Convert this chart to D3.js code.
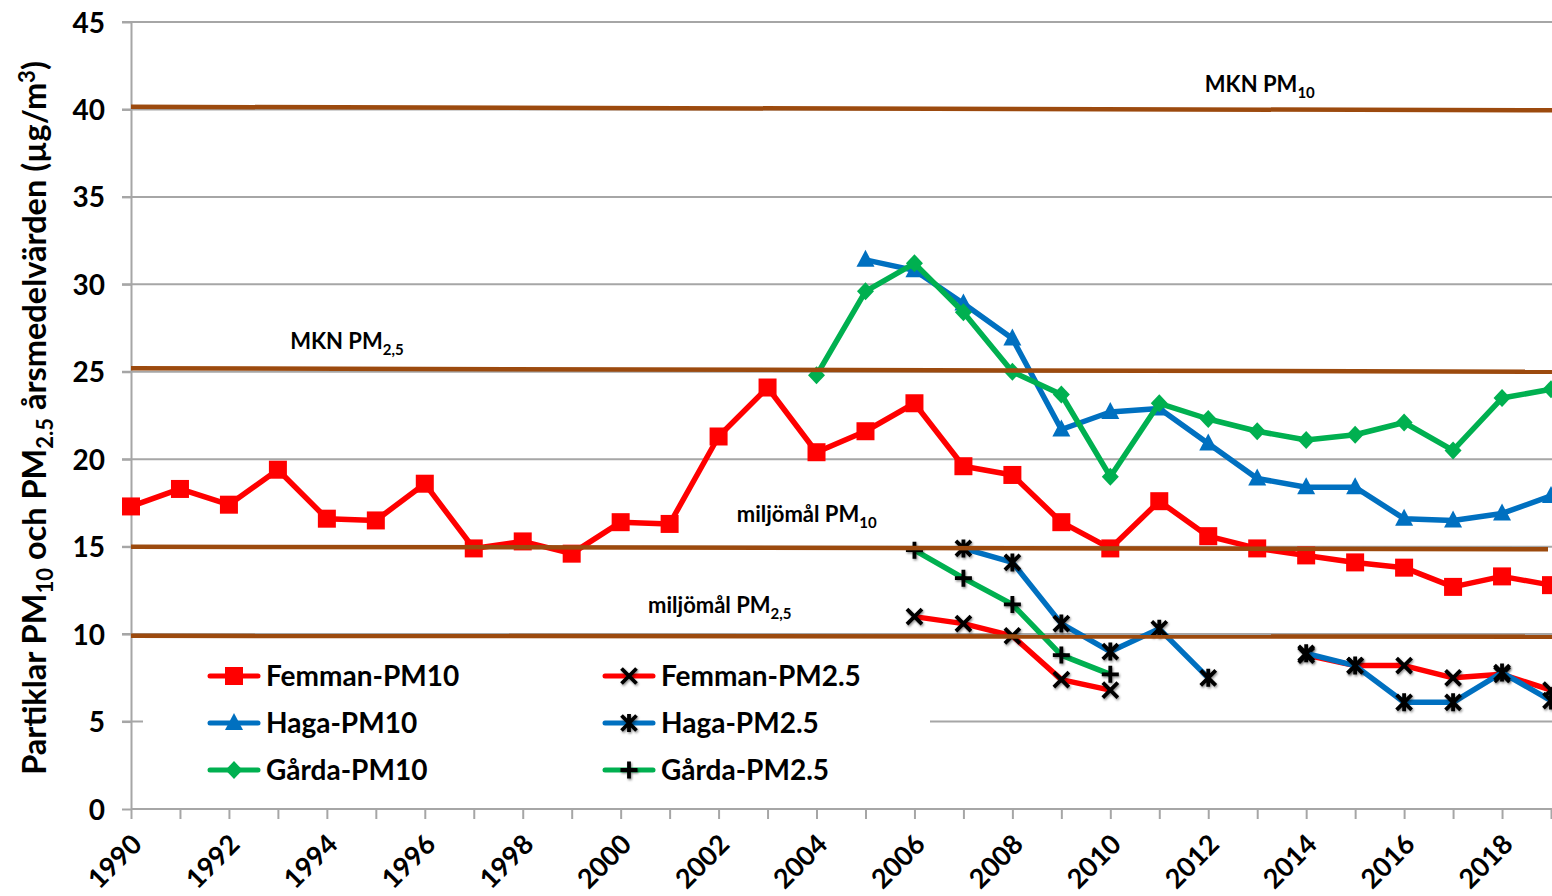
<!DOCTYPE html>
<head>
    <meta charset="utf-8">
    <style>
        body{ margin:0; background:white; }
        svg{ background-color:white; display:block; }
        text{ font-family: Lato, "Open Sans", sans-serif; font-weight:bold; fill:#000; }
        .grid line{ stroke:#a6a6a6; stroke-width:2; }
        .axis path, .axis line{ stroke:#a6a6a6; stroke-width:2; }
        .note{ font-size:22px; }
    </style>
</head>
<body>
<script src="https://d3js.org/d3.v7.min.js"></script>
<script>

const width = 1552;
const height = 896;

// categories
const years = [1990, 1991, 1992, 1993, 1994, 1995, 1996, 1997, 1998, 1999,
    2000, 2001, 2002, 2003, 2004, 2005, 2006, 2007, 2008, 2009,
    2010, 2011, 2012, 2013, 2014, 2015, 2016, 2017, 2018, 2019];
const yTicks = [0, 5, 10, 15, 20, 25, 30, 35, 40, 45];

// series values (µg/m3), null = no measurement
const femmanPM10 = [17.3, 18.3, 17.4, 19.4, 16.6, 16.5, 18.6, 14.9, 15.3, 14.6,
    16.4, 16.3, 21.3, 24.1, 20.4, 21.6, 23.2, 19.6, 19.1, 16.4,
    14.9, 17.6, 15.6, 14.9, 14.5, 14.1, 13.8, 12.7, 13.3, 12.8];
const hagaPM10 = [null, null, null, null, null, null, null, null, null, null,
    null, null, null, null, null, 31.4, 30.8, 28.9, 26.9, 21.7,
    22.7, 22.9, 20.9, 18.9, 18.4, 18.4, 16.6, 16.5, 16.9, 17.9];
const gardaPM10 = [null, null, null, null, null, null, null, null, null, null,
    null, null, null, null, 24.8, 29.6, 31.2, 28.4, 25.0, 23.7,
    19.0, 23.2, 22.3, 21.6, 21.1, 21.4, 22.1, 20.5, 23.5, 24.0];
const femmanPM25 = [null, null, null, null, null, null, null, null, null, null,
    null, null, null, null, null, null, 11.0, 10.6, 9.9, 7.4,
    6.8, null, null, null, 8.8, 8.2, 8.2, 7.5, 7.7, 6.8];
const hagaPM25 = [null, null, null, null, null, null, null, null, null, null,
    null, null, null, null, null, null, null, 14.9, 14.1, 10.6,
    9.0, 10.3, 7.5, null, 8.9, 8.2, 6.1, 6.1, 7.8, 6.2];
const gardaPM25 = [null, null, null, null, null, null, null, null, null, null,
    null, null, null, null, null, null, 14.8, 13.2, 11.7, 8.8,
    7.7, null, null, null, null, null, null, null, null, null];

// limit / target lines (value at left end, value at right end)
const limitStart = [40.15, 25.2, 15.0, 9.9];
const limitEnd = [39.95, 25.0, 14.85, 9.85];

const x = d3.scaleLinear().domain([1990, 2019]).range([131, 1551]);
const y = d3.scaleLinear().domain([0, 45]).range([809, 22]);

const svg = d3.select('body').append('svg')
    .attr('width', width)
    .attr('height', height);

const defs = svg.append('defs');
defs.append('filter').attr('id', 'shadow')
    .attr('x', '-50%').attr('y', '-50%').attr('width', '200%').attr('height', '200%')
    .append('feDropShadow')
        .attr('dx', 1).attr('dy', 1.5).attr('stdDeviation', 1.3)
        .attr('flood-color', '#000').attr('flood-opacity', 0.45);

// gridlines
svg.append('g').attr('class', 'grid')
    .selectAll('line')
    .data(yTicks.filter(d => d > 0))
    .join('line')
        .attr('x1', x(1990) - 9)
        .attr('x2', width)
        .attr('y1', d => y(d))
        .attr('y2', d => y(d));

// axes
const yAxis = svg.append('g').attr('class', 'axis')
    .attr('transform', `translate(${x(1990)},0)`)
    .call(d3.axisLeft(y).tickValues(yTicks).tickSize(9).tickSizeOuter(0).tickPadding(17));
yAxis.selectAll('text').style('font-size', '28px').attr('dy', '0.36em');

const xAxis = svg.append('g').attr('class', 'axis')
    .attr('transform', `translate(0,${y(0)})`)
    .call(d3.axisBottom(x).tickValues(years).tickSize(10).tickSizeOuter(0)
        .tickFormat(d => d % 2 === 0 ? d : ''));
xAxis.select('.domain').attr('d', `M${x(1990)},0H${width}`);
xAxis.selectAll('text')
    .style('font-size', '27px')
    .attr('text-anchor', 'end')
    .attr('dy', null)
    .attr('y', 0)
    .attr('transform', 'translate(12,37) rotate(-45)');

// legend box hides the grid behind it
svg.append('rect')
    .attr('x', 143).attr('y', 648)
    .attr('width', 787).attr('height', 150)
    .attr('fill', 'white');

const cross = (s) => `M${-s},${-s}L${s},${s}M${-s},${s}L${s},${-s}`;
const star = (s) => cross(s) + `M0,${-s * 1.2}L0,${s * 1.2}`;
const plus = (s) => `M${-s},0L${s},0M0,${-s}L0,${s}`;

const series = [
    {name: 'Femman-PM10', values: femmanPM10, color: '#ff0000', marker: 'square'},
    {name: 'Haga-PM10', values: hagaPM10, color: '#0070c0', marker: 'triangle'},
    {name: 'Gårda-PM10', values: gardaPM10, color: '#00b050', marker: 'diamond'},
    {name: 'Femman-PM2.5', values: femmanPM25, color: '#ff0000', marker: 'cross'},
    {name: 'Haga-PM2.5', values: hagaPM25, color: '#0070c0', marker: 'star'},
    {name: 'Gårda-PM2.5', values: gardaPM25, color: '#00b050', marker: 'plus'}
];

const drawMarker = (g, type, color) => {
    if (type === 'square') {
        g.append('rect').attr('x', -9).attr('y', -9).attr('width', 18).attr('height', 18).attr('fill', color);
    } else if (type === 'triangle') {
        g.append('path').attr('d', 'M0,-10L9,7L-9,7Z').attr('fill', color);
    } else if (type === 'diamond') {
        g.append('path').attr('d', 'M0,-9L8.5,0L0,9L-8.5,0Z').attr('fill', color);
    } else {
        const d = type === 'cross' ? cross(7.5) : type === 'star' ? star(7.5) : plus(8.5);
        g.append('path').attr('d', d)
            .attr('stroke', '#000').attr('stroke-width', 3.8).attr('fill', 'none')
            .attr('filter', 'url(#shadow)');
    }
};

const line = d3.line()
    .defined(d => d.v !== null)
    .x(d => x(d.year))
    .y(d => y(d.v));

series.forEach((s) => {
    const pts = years.map((year, i) => ({year: year, v: s.values[i]}));
    svg.append('path')
        .datum(pts)
        .attr('fill', 'none')
        .attr('stroke', s.color)
        .attr('stroke-width', 5.5)
        .attr('stroke-linejoin', 'round')
        .attr('d', line);
    pts.filter(d => d.v !== null).forEach((d) => {
        const g = svg.append('g').attr('transform', `translate(${x(d.year)},${y(d.v)})`);
        drawMarker(g, s.marker, s.color);
    });
});

// limit lines
svg.append('g').selectAll('line')
    .data(limitStart)
    .join('line')
        .attr('x1', x(1990))
        .attr('x2', (d, i) => i === 2 ? x(2019) - 3 : width)
        .attr('y1', d => y(d))
        .attr('y2', (d, i) => y(limitEnd[i]))
        .attr('stroke', '#9c4a0e')
        .attr('stroke-width', 4.5);

// notes
const notes = [
    {main: 'MKN PM', sub: '10', year: 2011.93, v: 41.0},
    {main: 'MKN PM', sub: '2,5', year: 1993.25, v: 26.3},
    {main: 'miljömål PM', sub: '10', year: 2002.37, v: 16.4},
    {main: 'miljömål PM', sub: '2,5', year: 2000.56, v: 11.2}
];
notes.forEach((n) => {
    const t = svg.append('text').attr('class', 'note')
        .attr('x', x(n.year)).attr('y', y(n.v));
    t.append('tspan').text(n.main);
    t.append('tspan').attr('dy', 6).style('font-size', '15px').text(n.sub);
});

// legend
series.forEach((s, i) => {
    const col = Math.floor(i / 3);
    const row = i % 3;
    const lx = 210 + col * 395;
    const ly = 676 + row * 47;
    svg.append('line')
        .attr('x1', lx).attr('x2', lx + 48)
        .attr('y1', ly).attr('y2', ly)
        .attr('stroke', s.color).attr('stroke-width', 5).attr('stroke-linecap', 'round');
    drawMarker(svg.append('g').attr('transform', `translate(${lx + 24},${ly})`), s.marker, s.color);
    svg.append('text')
        .attr('x', lx + 56).attr('y', ly + 10)
        .style('font-size', '28px')
        .text(s.name);
});

// y axis title
const title = svg.append('text')
    .attr('transform', 'translate(46,418) rotate(-90)')
    .attr('text-anchor', 'middle')
    .style('font-size', '32.5px');
title.append('tspan').text('Partiklar PM');
title.append('tspan').attr('dy', 7).style('font-size', '22px').text('10');
title.append('tspan').attr('dy', -7).text(' och PM');
title.append('tspan').attr('dy', 7).style('font-size', '22px').text('2.5');
title.append('tspan').attr('dy', -7).text(' årsmedelvärden (µg/m');
title.append('tspan').attr('dy', -11).style('font-size', '22px').text('3');
title.append('tspan').attr('dy', 11).text(')');

</script>
</body>
</html>
